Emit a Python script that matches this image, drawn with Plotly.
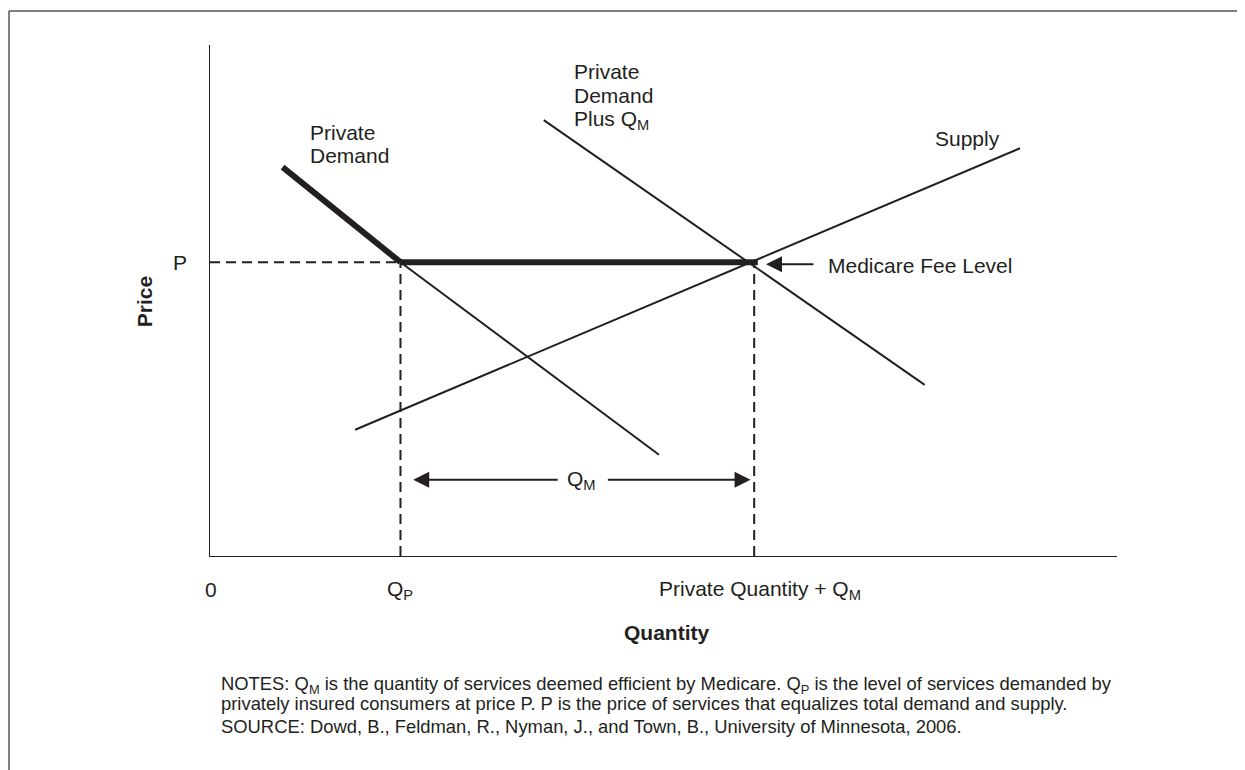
import plotly.graph_objects as go

# ---- data (arbitrary economic units, x: quantity 0-100, y: price 0-100) ----
P_LEVEL = 57.5
Q_P = 21.0
Q_TOTAL = 60.0

demand_x = [8.0, 21.0, 49.5]
demand_y = [76.1, 57.5, 19.8]

demand_plus_x = [36.8, 78.8]
demand_plus_y = [85.3, 33.5]

supply_x = [16.0, 89.3]
supply_y = [24.7, 79.8]

fee_x = [21.0, 60.4]
fee_y = [57.5, 57.5]

qm_arrow_y = 14.9

INK = "#231f20"
FONT = "Liberation Sans, Arial, Helvetica, sans-serif"

fig = go.Figure()

# dashed guides
fig.add_trace(go.Scatter(x=[0, Q_P], y=[P_LEVEL, P_LEVEL], mode="lines",
                         line=dict(color=INK, width=2, dash="10px,6px"), hoverinfo="skip"))
fig.add_trace(go.Scatter(x=[Q_P, Q_P], y=[0, P_LEVEL], mode="lines",
                         line=dict(color=INK, width=2, dash="10px,6px"), hoverinfo="skip"))
fig.add_trace(go.Scatter(x=[Q_TOTAL, Q_TOTAL], y=[0, P_LEVEL], mode="lines",
                         line=dict(color=INK, width=2, dash="10px,6px"), hoverinfo="skip"))

# thin curves
fig.add_trace(go.Scatter(x=demand_x[1:], y=demand_y[1:], mode="lines",
                         line=dict(color=INK, width=2), hoverinfo="skip"))
fig.add_trace(go.Scatter(x=demand_plus_x, y=demand_plus_y, mode="lines",
                         line=dict(color=INK, width=2), hoverinfo="skip"))
fig.add_trace(go.Scatter(x=supply_x, y=supply_y, mode="lines",
                         line=dict(color=INK, width=2), hoverinfo="skip"))

# thick effective demand
fig.add_trace(go.Scatter(x=demand_x[:2], y=demand_y[:2], mode="lines",
                         line=dict(color=INK, width=6), hoverinfo="skip"))
fig.add_trace(go.Scatter(x=fee_x, y=fee_y, mode="lines",
                         line=dict(color=INK, width=6), hoverinfo="skip"))

ann = []

def txt(x, y, text, size=21, xanchor="left", bold=False, angle=0):
    # positions given in the 0-100 data frame; placed via paper coords so that
    # labels outside the axis range are still drawn
    ann.append(dict(x=x / 100.0, y=y / 100.0, xref="paper", yref="paper",
                    text=("<b>%s</b>" % text) if bold else text,
                    showarrow=False, xanchor=xanchor, yanchor="middle", textangle=angle,
                    font=dict(family=FONT, size=size, color=INK)))

def arrow(x_head, x_tail, y):
    ann.append(dict(x=x_head, y=y, ax=x_tail, ay=y, xref="x", yref="y", axref="x", ayref="y",
                    text="", showarrow=True, arrowhead=2, arrowsize=1.6, arrowwidth=2,
                    arrowcolor=INK, standoff=0, startstandoff=0))

# QM double arrow
arrow(22.4, 38.5, qm_arrow_y)
arrow(59.6, 43.7, qm_arrow_y)
txt(41.0, qm_arrow_y, "Q<sub>M</sub>", xanchor="center")

# Medicare fee arrow
arrow(61.3, 66.7, 57.1)
txt(67.9, 56.9, "Medicare Fee Level")

# curve labels
txt(10.8, 82.8, "Private")
txt(10.8, 78.4, "Demand")
txt(39.9, 94.8, "Private")
txt(39.9, 90.1, "Demand")
txt(39.9, 85.3, "Plus Q<sub>M</sub>")
txt(79.7, 81.8, "Supply")

# axis labels
txt(-3.3, P_LEVEL, "P", xanchor="center")
txt(0.1, -6.6, "0", xanchor="center")
txt(Q_P, -6.6, "Q<sub>P</sub>", xanchor="center")
txt(60.6, -6.6, "Private Quantity + Q<sub>M</sub>", xanchor="center")
txt(50.3, -15.0, "Quantity", size=21, xanchor="center", bold=True)
txt(-7.2, 49.8, "Price", size=21, xanchor="center", bold=True, angle=-90)

# notes
txt(0.99, -25.3, "NOTES: Q<sub>M</sub> is the quantity of services deemed efficient by Medicare. "
        "Q<sub>P</sub> is the level of services demanded by", size=18.4)
txt(0.99, -28.9, "privately insured consumers at price P. P is the price of services that "
        "equalizes total demand and supply.", size=18.4)
txt(0.99, -33.3, "SOURCE: Dowd, B., Feldman, R., Nyman, J., and Town, B., University of "
        "Minnesota, 2006.", size=18.4)

# outer frame (top and left edges)
shapes = [
    dict(type="line", xref="paper", yref="paper", x0=-0.2216, x1=1.2, y0=1.0665, y1=1.0665,
         line=dict(color="#555555", width=1.5)),
    dict(type="line", xref="paper", yref="paper", x0=-0.2216, x1=-0.2216, y0=1.0665, y1=-0.5,
         line=dict(color="#555555", width=1.5)),
]

fig.update_layout(
    width=1237, height=762,
    margin=dict(l=202, r=128, t=37, b=214),
    paper_bgcolor="white", plot_bgcolor="white",
    showlegend=False,
    annotations=ann, shapes=shapes,
    xaxis=dict(range=[0, 100], showgrid=False, zeroline=False, showticklabels=False,
               ticks="", showline=True, linecolor=INK, linewidth=1.3),
    yaxis=dict(range=[0, 100], showgrid=False, zeroline=False, showticklabels=False,
               ticks="", showline=True, linecolor=INK, linewidth=1.3),
)

fig.write_html("out.html")
